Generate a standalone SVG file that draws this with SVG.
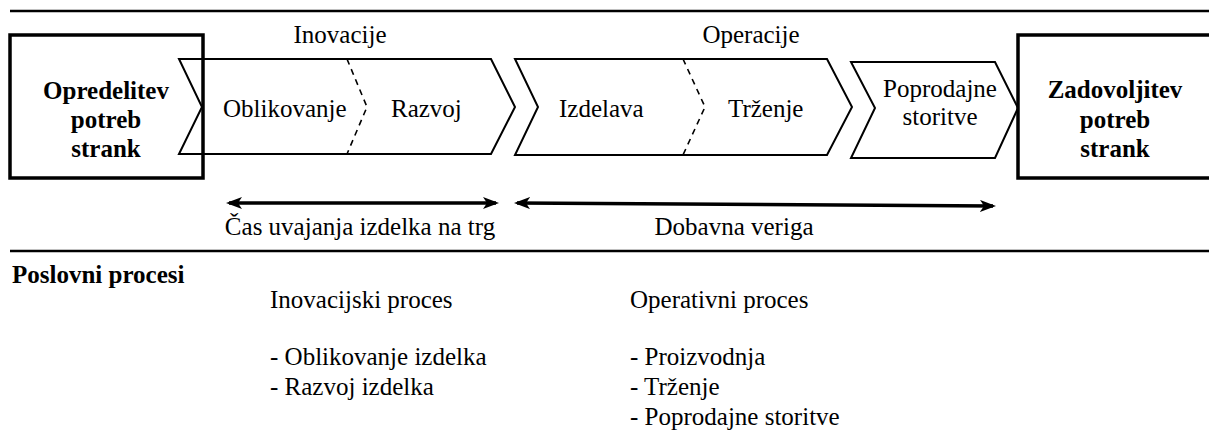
<svg xmlns="http://www.w3.org/2000/svg" width="1209" height="437" viewBox="0 0 1209 437">
  <style>
    .t { font-size: 25px; fill: #000; }
    .b { font-weight: bold; }
    .mid { text-anchor: middle; }
    .rule { stroke: #000; stroke-width: 2.5; }
    .box { fill: none; stroke: #000; stroke-width: 3.5; }
    .chev { fill: #fff; stroke: #000; stroke-width: 2; stroke-linejoin: miter; }
    .sep { fill: none; stroke: #000; stroke-width: 1.6; stroke-dasharray: 6 5; }
    .span { stroke: #000; stroke-width: 3.5; fill: none; }
  </style>
  <defs>
    <marker id="head" viewBox="0 0 16 12" refX="13" refY="6" markerWidth="16" markerHeight="12" markerUnits="userSpaceOnUse" orient="auto-start-reverse">
      <path d="M0,0 L16,6 L0,12 L4,6 z" fill="#000"/>
    </marker>
  </defs>

  <g font-family="'Liberation Serif', 'Times New Roman', Times, serif">
  <!-- horizontal rules -->
  <line class="rule" x1="10" y1="11" x2="1209" y2="11"/>
  <line class="rule" x1="10" y1="251" x2="1209" y2="251"/>

  <!-- section headings -->
  <text x="340" y="43" class="t mid">Inovacije</text>
  <text x="751" y="43" class="t mid">Operacije</text>

  <!-- value chain stages -->
  <g id="stage-innovation">
    <polygon class="chev" points="179,59 491,59 515,107 491,154 179,154 202,107"/>
    <polyline class="sep" points="347,59 367,107 347,154"/>
    <text x="223" y="117" class="t">Oblikovanje</text>
    <text x="391" y="117" class="t">Razvoj</text>
  </g>
  <g id="stage-operations">
    <polygon class="chev" points="515,59 827,59 852,107 827,155 515,155 538,107"/>
    <polyline class="sep" points="683,59 705,107 683,155"/>
    <text x="559" y="117" class="t">Izdelava</text>
    <text x="728" y="117" class="t">Trženje</text>
  </g>
  <g id="stage-aftersales">
    <polygon class="chev" points="851,62 995,62 1018,108 995,158 851,158 875,108"/>
    <text x="940" y="97" class="t mid">Poprodajne</text>
    <text x="940" y="125" class="t mid">storitve</text>
  </g>

  <!-- customer boxes -->
  <g id="customer-needs">
    <rect class="box" x="10" y="35" width="193" height="143"/>
    <text x="106" y="99" class="t b mid">Opredelitev</text>
    <text x="106" y="128" class="t b mid">potreb</text>
    <text x="106" y="157" class="t b mid">strank</text>
  </g>
  <g id="customer-satisfied">
    <rect class="box" x="1018" y="35" width="200" height="143"/>
    <text x="1115" y="98" class="t b mid">Zadovoljitev</text>
    <text x="1115" y="128" class="t b mid">potreb</text>
    <text x="1115" y="157" class="t b mid">strank</text>
  </g>

  <!-- time spans -->
  <g id="connectors">
    <line class="span" x1="229" y1="203" x2="496" y2="203" marker-start="url(#head)" marker-end="url(#head)"/>
    <line class="span" x1="517" y1="203" x2="993" y2="206" marker-start="url(#head)" marker-end="url(#head)"/>
  </g>
  <text x="360" y="235" class="t mid">Čas uvajanja izdelka na trg</text>
  <text x="734" y="235" class="t mid">Dobavna veriga</text>

  <!-- process listing -->
  <text x="12" y="283" class="t b">Poslovni procesi</text>
  <text x="270" y="308" class="t">Inovacijski proces</text>
  <text x="270" y="365" class="t">- Oblikovanje izdelka</text>
  <text x="270" y="395" class="t">- Razvoj izdelka</text>
  <text x="630" y="308" class="t">Operativni proces</text>
  <text x="630" y="365" class="t">- Proizvodnja</text>
  <text x="630" y="395" class="t">- Trženje</text>
  <text x="630" y="425" class="t">- Poprodajne storitve</text>
  </g>
</svg>
